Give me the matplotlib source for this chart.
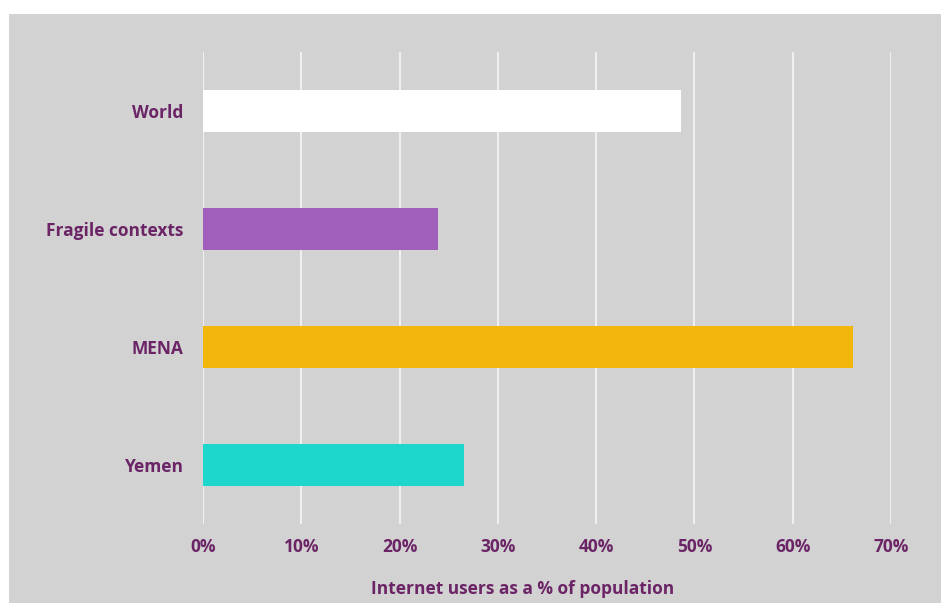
import matplotlib.pyplot as plt
from matplotlib.patches import Rectangle

categories = ["World", "Fragile contexts", "MENA", "Yemen"]
values = [48.6, 23.9, 66.1, 26.6]
bar_colors = ["#ffffff", "#a05fba", "#f2b60c", "#1dd6cc"]
ticks = [0, 10, 20, 30, 40, 50, 60, 70]
tick_labels = [f"{t}%" for t in ticks]

TEXT = "#6b2466"
BG = "#d2d2d2"

plt.rcParams['font.family'] = ['Open Sans', 'DejaVu Sans']
plt.rcParams['font.weight'] = 'bold'

W, H = 941, 603
fig = plt.figure(figsize=(W / 100, H / 100), dpi=100)
fig.patch.set_facecolor("white")
# grey panel with a thin white margin on the top and left
fig.patches.append(Rectangle((9 / W, 0), 1 - 9 / W, 1 - 14 / H,
                             transform=fig.transFigure, facecolor=BG,
                             edgecolor="none", zorder=-5))

ax = fig.add_axes([203 / W, (H - 524) / H, (891 - 203) / W, (524 - 52) / H])
ax.set_zorder(1)
ax.set_facecolor("none")

ypos = list(range(len(categories)))
ax.barh(ypos, values, height=0.35, color=bar_colors, zorder=3)

ax.set_xlim(0, 70)
ax.set_ylim(3.5, -0.5)
ax.set_xticks(ticks)
ax.set_xticklabels(tick_labels)
ax.set_yticks(ypos)
ax.set_yticklabels(categories)
ax.grid(axis="x", color="#efefef", linewidth=1.5, zorder=1)
ax.set_axisbelow(True)
for s in ax.spines.values():
    s.set_visible(False)
ax.tick_params(axis="both", length=0, labelsize=12.5, labelcolor=TEXT)
ax.tick_params(axis="x", pad=10)
ax.tick_params(axis="y", pad=14)
for lbl in ax.get_xticklabels() + ax.get_yticklabels():
    lbl.set_fontweight("bold")

ax.set_xlabel("Internet users as a % of population", fontsize=12.5,
              color=TEXT, fontweight="bold", labelpad=16)
ax.xaxis.set_label_coords(0.465, -0.118)

fig.savefig("out.png", dpi=100, facecolor=fig.get_facecolor())
